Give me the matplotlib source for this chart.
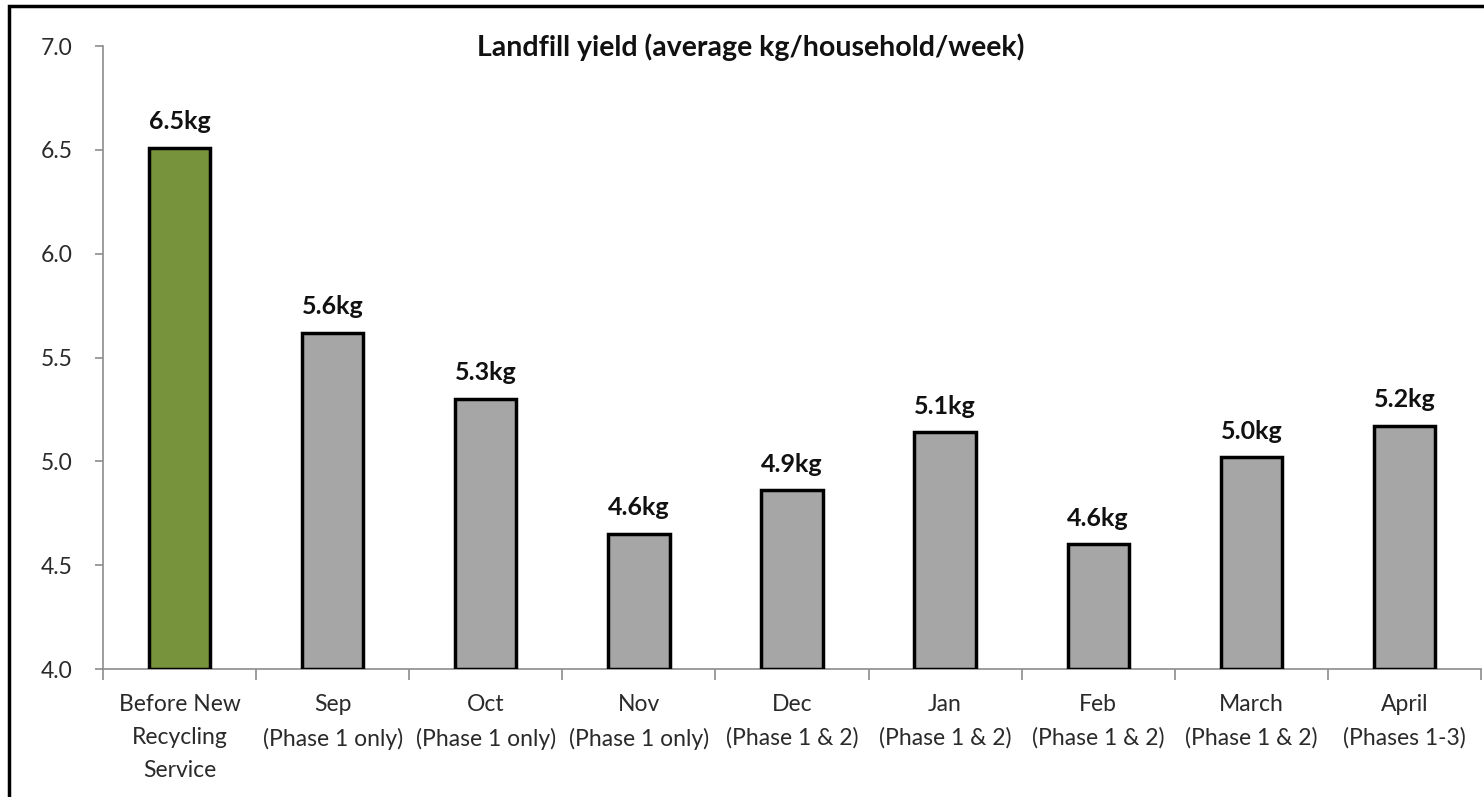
import numpy as np
import matplotlib.pyplot as plt
from matplotlib.patches import Rectangle

categories = ["Before New\nRecycling\nService", "Sep\n(Phase 1 only)", "Oct\n(Phase 1 only)",
              "Nov\n(Phase 1 only)", "Dec\n(Phase 1 & 2)", "Jan\n(Phase 1 & 2)",
              "Feb\n(Phase 1 & 2)", "March\n(Phase 1 & 2)", "April\n(Phases 1-3)"]
values = [6.51, 5.62, 5.30, 4.65, 4.86, 5.14, 4.60, 5.02, 5.17]
value_labels = ["6.5kg", "5.6kg", "5.3kg", "4.6kg", "4.9kg", "5.1kg", "4.6kg", "5.0kg", "5.2kg"]
bar_colors = ["#77933c"] + ["#a6a6a6"] * 8
yticks = [4.0, 4.5, 5.0, 5.5, 6.0, 6.5, 7.0]

plt.rcParams['font.family'] = ['Lato', 'DejaVu Sans']

fig = plt.figure(figsize=(14.84, 7.97), dpi=100)
ax = fig.add_axes([103 / 1484, 1 - 669 / 797, (1481 - 103) / 1484, (669 - 46) / 797])

x = np.arange(len(categories))
ax.bar(x, [v - 4.0 for v in values], bottom=4.0, width=0.4, color=bar_colors,
       edgecolor="black", linewidth=2.5, zorder=3)
for xi, v, lab in zip(x, values, value_labels):
    ax.annotate(lab, (xi, v), xytext=(0, 10.5), textcoords="offset points",
                ha="center", va="bottom", fontsize=18, fontweight="bold", color="#111111")

ax.set_xlim(-0.5, len(categories) - 0.5)
ax.set_ylim(4.0, 7.0)
ax.set_yticks(yticks)
ax.set_yticklabels(["%.1f" % t for t in yticks])
ax.set_xticks(x)
ax.set_xticklabels(categories, linespacing=1.7)
ax.set_xticks(np.arange(-0.5, len(categories), 1.0), minor=True)
ax.tick_params(axis="x", which="major", length=0, pad=18, labelsize=16.5, labelcolor="#2a2a2a")
ax.tick_params(axis="x", which="minor", length=8, width=1.2, color="#8c8c8c", direction="out")
ax.tick_params(axis="y", length=6, width=1.2, color="#8c8c8c", labelsize=16.5,
               labelcolor="#2a2a2a", pad=16)

for s in ["top", "right"]:
    ax.spines[s].set_visible(False)
for s in ["left", "bottom"]:
    ax.spines[s].set_color("#8c8c8c")
    ax.spines[s].set_linewidth(1.2)

fig.text(751 / 1484, 1 - 47 / 797, "Landfill yield (average kg/household/week)",
         ha="center", va="center", fontsize=20.5, fontweight="bold", color="#111111")

# outer frame, cut off at right and bottom like the screenshot
fig.patches.append(Rectangle((9 / 1484, -0.1), 1.2, 1 - 6 / 797 + 0.1,
                             transform=fig.transFigure, fill=False,
                             edgecolor="black", linewidth=2.5))

fig.savefig("out.png", dpi=100)
